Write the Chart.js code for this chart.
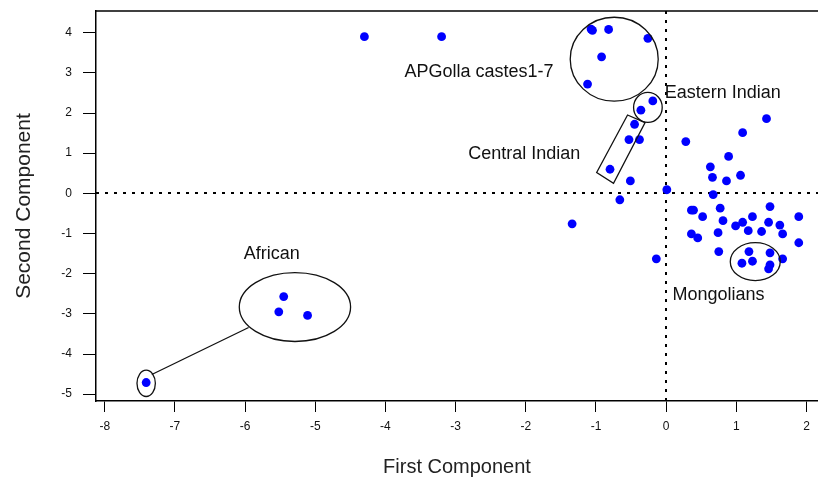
<!DOCTYPE html>
<html><head><meta charset="utf-8">
<script src="https://cdn.jsdelivr.net/npm/chart.js@4"></script>
<style>html,body{margin:0;padding:0;background:#fff;} canvas{display:block}</style>
</head><body>
<canvas id="c" width="818" height="482"></canvas>
<script>
// ---- data ----
const firstComponent = [
  -4.30, -3.20,
  -5.45, -5.52, -5.11, -7.41,
  -1.05, -1.07, -0.82, -0.26, -0.92, -1.12,
  -0.19, -0.36,
  -0.45, -0.53, -0.38, -0.80,
  -0.51, 0.01, -0.66, -1.34, -0.14,
  0.28, 1.09, 1.43, 0.89, 0.63, 0.66, 0.86, 1.06, 0.67,
  0.36, 0.39, 0.77, 1.48, 0.52, 0.81, 1.23, 0.99, 1.09, 1.17, 1.46, 1.36, 1.62, 1.66, 1.89, 1.89,
  0.36, 0.45, 0.74, 0.75, 1.66,
  1.18, 1.08, 1.23, 1.48, 1.48, 1.46
];
const secondComponent = [
  3.90, 3.90,
  -2.57, -2.95, -3.04, -4.71,
  4.06, 4.09, 4.08, 3.86, 3.40, 2.72,
  2.30, 2.07,
  1.72, 1.34, 1.34, 0.60,
  0.31, 0.09, -0.16, -0.76, -1.63,
  1.29, 1.51, 1.86, 0.92, 0.66, 0.40, 0.31, 0.45, -0.03,
  -0.42, -0.42, -0.37, -0.33, -0.58, -0.68, -0.58, -0.81, -0.72, -0.93, -0.72, -0.95, -0.79, -1.01, -0.58, -1.23,
  -1.01, -1.11, -0.98, -1.45, -1.63,
  -1.45, -1.74, -1.69, -1.48, -1.78, -1.88
];
const xTickValues = [-8, -7, -6, -5, -4, -3, -2, -1, 0, 1, 2];
const yTickValues = [-5, -4, -3, -2, -1, 0, 1, 2, 3, 4];
const xAxisTitle = 'First Component';
const yAxisTitle = 'Second Component';

// group annotations (in data units)
const groupNames  = ['APGolla castes1-7', 'Eastern Indian', 'Central Indian', 'Mongolians', 'African'];
const groupLabelX = [-3.73, -0.02, -2.82, 0.09, -6.02];
const groupLabelY = [3.03, 2.51, 0.99, -2.53, -1.50];
const ellipseCX = [-0.74, -0.26, 1.27, -5.29, -7.41];
const ellipseCY = [3.34, 2.14, -1.70, -2.83, -4.73];
const ellipseRX = [0.627, 0.204, 0.356, 0.793, 0.131];
const ellipseRY = [1.045, 0.373, 0.473, 0.858, 0.328];
const boxX = [-0.55, -0.30, -0.75, -0.99];
const boxY = [1.95, 1.76, 0.25, 0.52];
const linkX = [-7.33, -5.95];
const linkY = [-4.51, -3.34];

// ---- drawing ----
const FONT = "'Liberation Sans', Arial, sans-serif";
const points = firstComponent.map((x, i) => ({x, y: secondComponent[i]}));

const annotations = {
  id: 'annotations',
  beforeDraw(chart) {
    const {ctx} = chart;
    ctx.save();
    ctx.fillStyle = '#fff';
    ctx.fillRect(0, 0, chart.width, chart.height);
    ctx.restore();
  },
  beforeDatasetsDraw(chart) {
    const {ctx, chartArea: a, scales: {x, y}} = chart;
    ctx.save();
    ctx.strokeStyle = '#000';
    ctx.lineWidth = 2;
    ctx.setLineDash([3, 6]);
    const y0 = Math.round(y.getPixelForValue(0));
    ctx.beginPath(); ctx.moveTo(a.left, y0); ctx.lineTo(a.right, y0); ctx.stroke();
    const x0 = Math.round(x.getPixelForValue(0));
    ctx.beginPath(); ctx.moveTo(x0, a.top); ctx.lineTo(x0, a.bottom); ctx.stroke();
    ctx.setLineDash([]);
    ctx.lineWidth = 1.5;
    ctx.beginPath(); ctx.moveTo(a.left, a.top); ctx.lineTo(chart.width, a.top); ctx.stroke();
    ctx.restore();
  },
  afterDatasetsDraw(chart) {
    const {ctx, scales: {x, y}} = chart;
    ctx.save();
    ctx.strokeStyle = '#111';
    ctx.lineWidth = 1.3;
    for (let i = 0; i < ellipseCX.length; i++) {
      const cx = x.getPixelForValue(ellipseCX[i]);
      const cy = y.getPixelForValue(ellipseCY[i]);
      const rx = Math.abs(x.getPixelForValue(ellipseCX[i] + ellipseRX[i]) - cx);
      const ry = Math.abs(y.getPixelForValue(ellipseCY[i] + ellipseRY[i]) - cy);
      ctx.beginPath(); ctx.ellipse(cx, cy, rx, ry, 0, 0, Math.PI * 2); ctx.stroke();
    }
    ctx.beginPath();
    boxX.forEach((bx, i) => {
      const px = x.getPixelForValue(bx), py = y.getPixelForValue(boxY[i]);
      if (i === 0) ctx.moveTo(px, py); else ctx.lineTo(px, py);
    });
    ctx.closePath(); ctx.stroke();
    ctx.beginPath();
    ctx.moveTo(x.getPixelForValue(linkX[0]), y.getPixelForValue(linkY[0]));
    ctx.lineTo(x.getPixelForValue(linkX[1]), y.getPixelForValue(linkY[1]));
    ctx.stroke();
    ctx.fillStyle = '#111';
    ctx.font = '18px ' + FONT;
    ctx.textAlign = 'left';
    ctx.textBaseline = 'middle';
    groupNames.forEach((t, i) => {
      ctx.fillText(t, x.getPixelForValue(groupLabelX[i]), y.getPixelForValue(groupLabelY[i]));
    });
    ctx.restore();
  }
};

function noPad(s) { s.paddingTop = 0; s.paddingBottom = 0; s.paddingLeft = 0; s.paddingRight = 0; }

new Chart(document.getElementById('c'), {
  type: 'scatter',
  data: {
    datasets: [{
      data: points,
      backgroundColor: '#0000ff',
      borderColor: '#0000ff',
      borderWidth: 0,
      pointRadius: 4.4,
      pointHoverRadius: 4.4
    }]
  },
  options: {
    responsive: false,
    animation: false,
    devicePixelRatio: 1,
    layout: {autoPadding: false, padding: {top: 11, right: 0, bottom: 0, left: 0}},
    plugins: {legend: {display: false}, tooltip: {enabled: false}},
    scales: {
      x: {
        type: 'linear', min: -8.125, max: 2.164,
        afterBuildTicks: s => { s.ticks = xTickValues.map(v => ({value: v})); },
        afterFit: s => { s.height = 81; noPad(s); },
        ticks: {color: '#111', font: {size: 12, family: FONT}, padding: 7, maxRotation: 0},
        grid: {drawOnChartArea: false, drawTicks: true, tickLength: 11, color: '#000', lineWidth: 1},
        border: {display: true, color: '#000', width: 1.5},
        title: {display: true, text: xAxisTitle, color: '#222', font: {size: 20, family: FONT}, padding: {top: 0, bottom: 3}}
      },
      y: {
        type: 'linear', min: -5.17, max: 4.54,
        afterBuildTicks: s => { s.ticks = yTickValues.map(v => ({value: v})); },
        afterFit: s => { s.width = 96; noPad(s); },
        ticks: {color: '#111', font: {size: 12, family: FONT}, padding: 11},
        grid: {drawOnChartArea: false, drawTicks: true, tickLength: 13, color: '#000', lineWidth: 1},
        border: {display: true, color: '#000', width: 1.5},
        title: {display: true, text: yAxisTitle, color: '#222', font: {size: 21, family: FONT}, padding: {top: 12, bottom: 0}}
      }
    }
  },
  plugins: [annotations]
});
</script>
</body></html>
